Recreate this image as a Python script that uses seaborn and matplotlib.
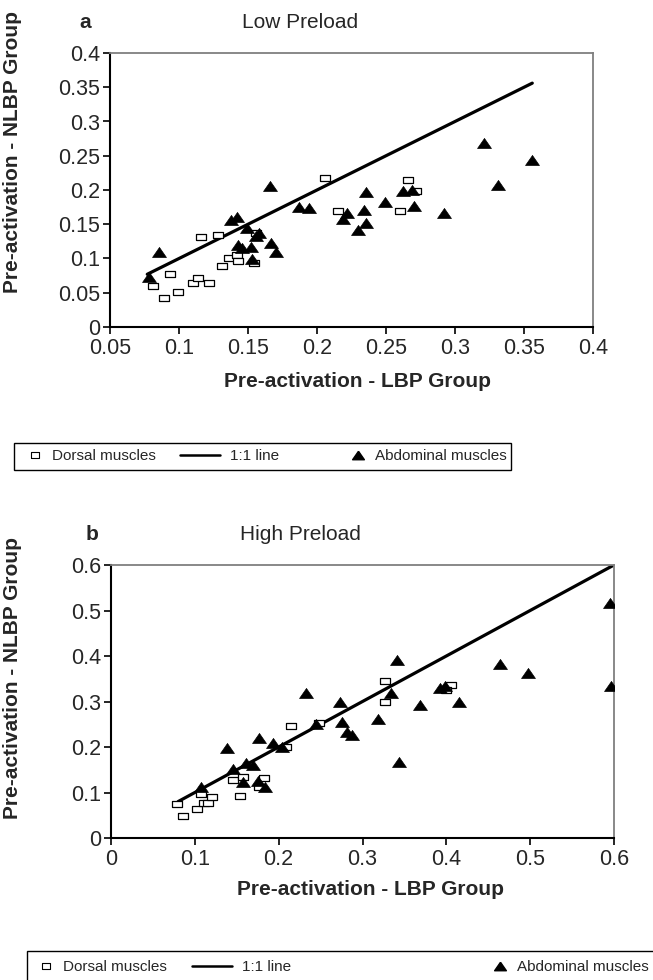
import matplotlib
matplotlib.use("Agg")
import matplotlib.pyplot as plt
from matplotlib.patches import Rectangle
from matplotlib.lines import Line2D
from matplotlib.ticker import FuncFormatter
import seaborn as sns
import pandas as pd

sns.set_style("white")
plt.rcParams['font.family'] = ['Liberation Sans', 'DejaVu Sans']

# --- panel a : Low Preload ---
low_dorsal_x = [0.081, 0.089, 0.0935, 0.099, 0.110, 0.1135, 0.122, 0.116, 0.128, 0.1315,
                0.136, 0.142, 0.143, 0.154, 0.1556, 0.206, 0.266, 0.272, 0.215, 0.260]
low_dorsal_y = [0.060, 0.043, 0.077, 0.051, 0.064, 0.072, 0.064, 0.132, 0.134, 0.089,
                0.100, 0.105, 0.097, 0.093, 0.137, 0.218, 0.214, 0.199, 0.169, 0.169]
low_abd_x = [0.078, 0.0855, 0.1375, 0.142, 0.149, 0.158, 0.156, 0.143, 0.1455, 0.152,
             0.1527, 0.167, 0.170, 0.166, 0.187, 0.1945, 0.2355, 0.2186, 0.222, 0.234,
             0.2355, 0.230, 0.249, 0.2625, 0.269, 0.270, 0.292, 0.321, 0.331, 0.356]
low_abd_y = [0.073, 0.110, 0.156, 0.160, 0.145, 0.137, 0.133, 0.120, 0.116, 0.117,
             0.099, 0.122, 0.109, 0.206, 0.1745, 0.173, 0.197, 0.158, 0.167, 0.1705,
             0.152, 0.141, 0.183, 0.198, 0.200, 0.177, 0.1667, 0.269, 0.207, 0.2435]
low_line = [0.077, 0.356]

# --- panel b : High Preload ---
high_dorsal_x = [0.079, 0.086, 0.103, 0.107, 0.111, 0.116, 0.120, 0.146, 0.157, 0.154,
                 0.177, 0.183, 0.215, 0.209, 0.248, 0.327, 0.327, 0.405, 0.400]
high_dorsal_y = [0.074, 0.048, 0.064, 0.096, 0.077, 0.077, 0.090, 0.128, 0.135, 0.093,
                 0.113, 0.132, 0.246, 0.200, 0.252, 0.345, 0.300, 0.336, 0.325]
high_abd_x = [0.107, 0.138, 0.145, 0.157, 0.1615, 0.169, 0.177, 0.175, 0.184, 0.193,
              0.204, 0.233, 0.341, 0.2735, 0.275, 0.281, 0.288, 0.318, 0.334, 0.368,
              0.392, 0.398, 0.415, 0.343, 0.245, 0.464, 0.498, 0.595, 0.596]
high_abd_y = [0.111, 0.197, 0.151, 0.124, 0.164, 0.160, 0.219, 0.126, 0.111, 0.209,
              0.199, 0.318, 0.391, 0.298, 0.254, 0.232, 0.226, 0.261, 0.319, 0.292,
              0.329, 0.334, 0.300, 0.168, 0.2505, 0.382, 0.362, 0.516, 0.333]
high_line = [0.08, 0.60]

legend_labels = ["Dorsal muscles", "1:1 line", "Abdominal muscles"]

# flattened markers like the Excel ones
box_marker = [(-1.5, -1), (1.5, -1), (1.5, 1), (-1.5, 1), (-1.5, -1)]
tri_marker = [(0, 0.72), (1, -0.72), (-1, -0.72), (0, 0.72)]

fig = plt.figure(figsize=(6.53, 9.8), dpi=100)
W, H = 653, 980


def px_axes(l, t, r, b):
    return fig.add_axes([l / W, 1 - b / H, (r - l) / W, (b - t) / H])


def fmt(v, pos):
    return f"{v:g}"


def panel(ax, dx, dy, ax_, ay_, line, xlim, ylim, step_x, step_y):
    sns.scatterplot(x=dx, y=dy, ax=ax, marker=box_marker, s=45, color="white",
                    edgecolor="black", linewidth=0.9, zorder=3)
    sns.lineplot(x=line, y=line, ax=ax, color="black", linewidth=2.3, zorder=2)
    sns.scatterplot(x=ax_, y=ay_, ax=ax, marker=tri_marker, s=100, color="black",
                    edgecolor="black", linewidth=0.5, zorder=4)
    ax.set_xlim(*xlim)
    ax.set_ylim(*ylim)
    nx = round((xlim[1] - xlim[0]) / step_x)
    ny = round((ylim[1] - ylim[0]) / step_y)
    ax.set_xticks([xlim[0] + i * step_x for i in range(nx + 1)])
    ax.set_yticks([ylim[0] + i * step_y for i in range(ny + 1)])
    ax.xaxis.set_major_formatter(FuncFormatter(fmt))
    ax.yaxis.set_major_formatter(FuncFormatter(fmt))
    ax.tick_params(axis="both", direction="out", length=5, width=1.2,
                   labelsize=15.5, color="black", pad=2, left=True, bottom=True)
    ax.tick_params(axis="x", pad=3)
    for s in ["left", "bottom"]:
        ax.spines[s].set_color("black")
        ax.spines[s].set_linewidth(1.5)
    for s in ["top", "right"]:
        ax.spines[s].set_color("#7f7f7f")
        ax.spines[s].set_linewidth(1.3)
    ax.set_xlabel("Pre-activation - LBP Group", fontsize=15, fontweight="bold")
    ax.set_ylabel("Pre-activation - NLBP Group", fontsize=15, fontweight="bold")


def legend_row(y, frame, items):
    # frame: (left, top, right, bottom) in pixels
    l, t, r, b = frame
    fig.add_artist(Rectangle((l / W, 1 - b / H), (r - l) / W, (b - t) / H,
                             transform=fig.transFigure, fill=False,
                             edgecolor="black", linewidth=1.0))
    handles = [
        Line2D([], [], marker=box_marker, markersize=6, markerfacecolor="white",
               markeredgecolor="black", markeredgewidth=0.8, linestyle="none"),
        Line2D([], [], color="black", linewidth=1.8),
        Line2D([], [], marker=tri_marker, markersize=8.5, color="black", linestyle="none"),
    ]
    for h, lab, (hx, hl) in zip(handles, legend_labels, items):
        fig.legend(handles=[h], labels=[lab], loc="center left",
                   bbox_to_anchor=(hx / W, 1 - y / H), frameon=False,
                   fontsize=11, handlelength=hl, handletextpad=0.7,
                   borderpad=0, borderaxespad=0)


ax1 = px_axes(110, 53, 593, 327)
panel(ax1, low_dorsal_x, low_dorsal_y, low_abd_x, low_abd_y, low_line,
      (0.05, 0.4), (0, 0.4), 0.05, 0.05)
ax1.yaxis.set_label_coords(-0.182, 0.64)
ax1.xaxis.set_label_coords(0.513, -0.165)
fig.text(300 / W, 1 - 28 / H, "Low Preload", fontsize=15, ha="center", va="baseline")
fig.text(85 / W, 1 - 28 / H, "a", fontsize=15, fontweight="bold", ha="center", va="baseline")

ax2 = px_axes(111, 565, 614, 838)
panel(ax2, high_dorsal_x, high_dorsal_y, high_abd_x, high_abd_y, high_line,
      (0, 0.6), (0, 0.6), 0.1, 0.1)
ax2.yaxis.set_label_coords(-0.177, 0.586)
ax2.xaxis.set_label_coords(0.515, -0.155)
fig.text(300 / W, 1 - 540 / H, "High Preload", fontsize=15, ha="center", va="baseline")
fig.text(92 / W, 1 - 540 / H, "b", fontsize=15, fontweight="bold", ha="center", va="baseline")

legend_row(456, (14, 443, 511, 470), [(29, 0.8), (180, 2.6), (352, 0.8)])
legend_row(967, (27, 951, 660, 995), [(40, 0.8), (192, 2.6), (494, 0.8)])

fig.savefig("out.png", dpi=100)
